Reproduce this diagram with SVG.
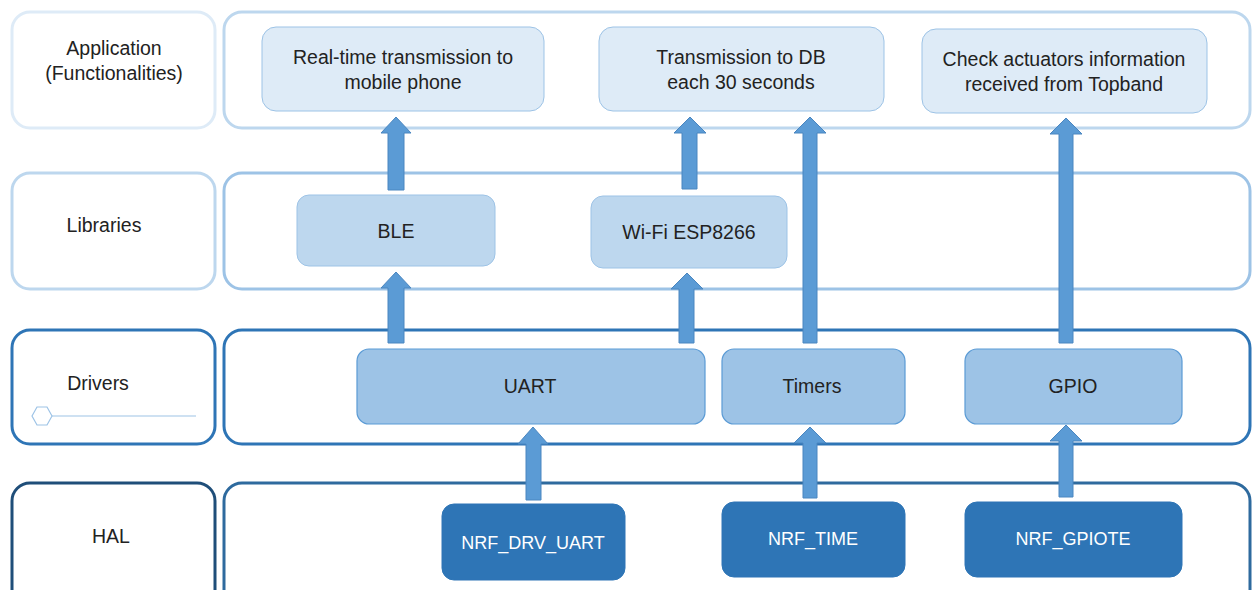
<svg xmlns="http://www.w3.org/2000/svg" width="1252" height="590" viewBox="0 0 1252 590">
<style>
text{font-family:"Liberation Sans","Noto Sans",sans-serif;font-size:19.5px;fill:#222;text-anchor:middle;dominant-baseline:central}
.row{fill:#fff;stroke-width:3}
.app{fill:#deebf7;stroke:#9dc3e6;stroke-width:1}
.lib{fill:#bdd7ee;stroke:#9dc3e6;stroke-width:1}
.drv{fill:#9dc3e6;stroke:#5b9bd5;stroke-width:1.2}
.hal{fill:#2e75b6;stroke:#2e75b6;stroke-width:1}
.w{fill:#fff;font-size:18px}
.arr{fill:#5b9bd5;stroke:#4a86c0;stroke-width:1}
</style>
<rect width="1252" height="590" fill="#fff"/>
<g id="layer-app">
<rect class="row" x="12" y="12" width="203" height="116" rx="18" stroke="#deebf7"/>
<text x="114" y="48">Application</text><text x="114" y="73">(Functionalities)</text>
<rect class="row" x="224" y="12" width="1026" height="116" rx="18" stroke="#bdd7ee"/>
</g>
<g id="layer-lib">
<rect class="row" x="12" y="173" width="203" height="116" rx="18" stroke="#bdd7ee"/>
<text x="104" y="225">Libraries</text>
<rect class="row" x="224" y="173" width="1026" height="116" rx="18" stroke="#9dc3e6"/>
</g>
<g id="layer-drv">
<rect class="row" x="12" y="330" width="203" height="114" rx="18" stroke="#2e75b6"/>
<text x="98" y="383">Drivers</text>
<polygon points="32,416 37,407 47,407 52,416 47,425 37,425" fill="none" stroke="#9dc3e6" stroke-width="1.2"/>
<line x1="52" y1="416" x2="196" y2="416" stroke="#9dc3e6" stroke-width="1.2"/>
<rect class="row" x="224" y="330" width="1026" height="114" rx="18" stroke="#2e75b6"/>
</g>
<g id="layer-hal">
<rect class="row" x="12" y="483" width="203" height="130" rx="18" stroke="#1f4e79"/>
<text x="111" y="536">HAL</text>
<rect class="row" x="224" y="483" width="1026" height="130" rx="18" stroke="#2e6a9e"/>
</g>
<g id="connectors">
<polygon class="arr" points="388,190 388,133 381,133 396,117 411,133 404,133 404,190"/>
<polygon class="arr" points="388,343 388,288 381,288 396,272 411,288 404,288 404,343"/>
<polygon class="arr" points="682,189 682,133 674,133 690,117 706,133 697,133 697,189"/>
<polygon class="arr" points="679,343 679,289 671,289 687,273 703,289 694,289 694,343"/>
<polygon class="arr" points="803,343 803,133 794,133 810,117 826,133 817,133 817,343"/>
<polygon class="arr" points="1059,343 1059,134 1050,134 1066,118 1082,134 1073,134 1073,343"/>
<polygon class="arr" points="526,500 526,444 518,444 533,427 548,444 541,444 541,500"/>
<polygon class="arr" points="803,498 803,443 794,443 810,427 826,443 817,443 817,498"/>
<polygon class="arr" points="1059,497 1059,441 1050,441 1066,425 1082,441 1073,441 1073,497"/>
</g>
<g id="n-realtime"><rect class="app" x="262" y="27" width="282" height="84" rx="14"/><text x="403" y="57">Real-time transmission to</text><text x="403" y="82">mobile phone</text></g>
<g id="n-db"><rect class="app" x="599" y="27" width="285" height="84" rx="14"/><text x="741" y="57">Transmission to DB</text><text x="741" y="82">each 30 seconds</text></g>
<g id="n-check"><rect class="app" x="922" y="29" width="285" height="84" rx="14"/><text x="1064" y="59">Check actuators information</text><text x="1064" y="84">received from Topband</text></g>
<g id="n-ble"><rect class="lib" x="297" y="195" width="198" height="71" rx="12"/><text x="396" y="231">BLE</text></g>
<g id="n-wifi"><rect class="lib" x="591" y="196" width="196" height="72" rx="12"/><text x="689" y="232">Wi-Fi ESP8266</text></g>
<g id="n-uart"><rect class="drv" x="357" y="349" width="348" height="75" rx="12"/><text x="530" y="386">UART</text></g>
<g id="n-timers"><rect class="drv" x="722" y="349" width="183" height="75" rx="12"/><text x="812" y="386">Timers</text></g>
<g id="n-gpio"><rect class="drv" x="965" y="349" width="217" height="75" rx="12"/><text x="1073" y="386">GPIO</text></g>
<g id="n-nrfuart"><rect class="hal" x="442" y="504" width="183" height="76" rx="12"/><text class="w" x="533" y="543">NRF_DRV_UART</text></g>
<g id="n-nrftime"><rect class="hal" x="722" y="502" width="183" height="75" rx="12"/><text class="w" x="813" y="539">NRF_TIME</text></g>
<g id="n-nrfgpiote"><rect class="hal" x="965" y="502" width="217" height="75" rx="12"/><text class="w" x="1073" y="539">NRF_GPIOTE</text></g>
</svg>
